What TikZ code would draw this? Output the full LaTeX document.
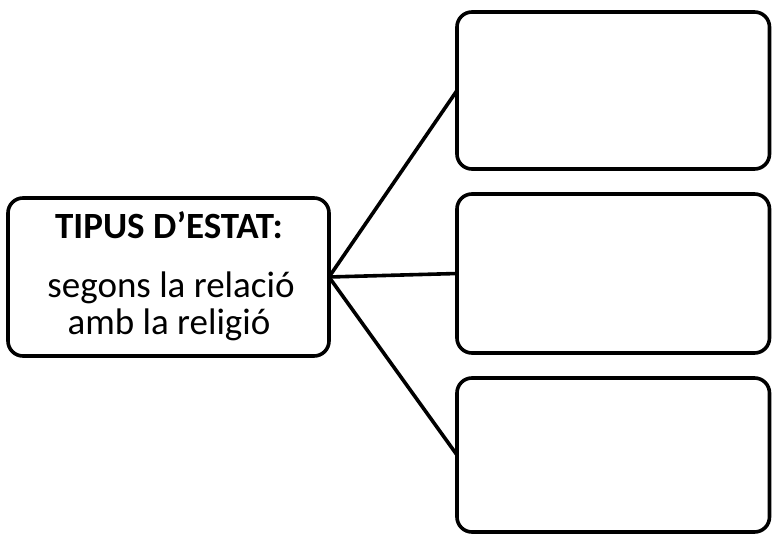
\documentclass[tikz,border=0pt]{standalone}
\usepackage{fontspec}
\setmainfont{Carlito}
\begin{document}
\begin{tikzpicture}[x=1pt,y=-1pt,
  box/.style={draw=black,line width=3.6pt,rounded corners=15pt,inner sep=0pt,outer sep=0pt,fill=white},
  link/.style={draw=black,line width=3.6pt},
  txt/.style={anchor=base,inner sep=0pt,font=\fontsize{37}{41}\selectfont}]
\useasboundingbox (0,0) rectangle (772,535);
\node[box,minimum width=321pt,minimum height=158pt] (src) at (168.5,277) {};
\node[box,minimum width=312.5pt,minimum height=157pt] (top) at (613.25,90.5) {};
\node[box,minimum width=312.5pt,minimum height=159pt] (mid) at (613.25,273.5) {};
\node[box,minimum width=312.5pt,minimum height=154pt] (bot) at (613.25,455) {};
\draw[link] (src.east) -- (top.west);
\draw[link] (src.east) -- (mid.west);
\draw[link] (src.east) -- (bot.west);
\node[txt,font=\fontsize{37}{41}\selectfont\bfseries] (t1) at (169,238) {TIPUS D’ESTAT:};
\node[txt] (t2) at (171,297) {segons la relació};
\node[txt] (t3) at (169,334) {amb la religió};
\end{tikzpicture}
\end{document}
